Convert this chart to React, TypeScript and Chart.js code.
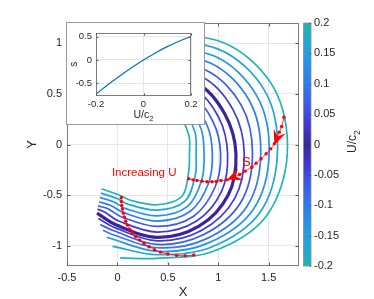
import React, { useEffect, useRef } from 'react';
import { Chart, registerables } from 'chart.js';

Chart.register(...registerables);

const FONT = '"Liberation Sans", Arial, Helvetica, sans-serif';
const TXT = '#262626';

// ---------- main plot data ----------
const uValues = [0.2, 0.1667, 0.1333, 0.1, 0.0667, 0.0333, 0, -0.0333, -0.0667, -0.1, -0.1333, -0.1667, -0.2];
// curves read in polar form around a reference point (data units), angle measured clockwise from +X
const curveCenter = [0.395, -0.092];
const readAngles = [-100, -60, -30, 0, 30, 60, 90, 120, 132];
const rAtM100 = [0.461, 0.520, 0.579, 0.638, 0.697, 0.757, 0.822, 0.882, 0.941, 1.003, 1.063, 1.125, 1.184];
const rAtM60 = [0.428, 0.490, 0.553, 0.612, 0.674, 0.737, 0.799, 0.878, 0.957, 1.039, 1.118, 1.197, 1.276];
const rAtM30 = [0.362, 0.431, 0.500, 0.569, 0.638, 0.707, 0.776, 0.868, 0.961, 1.053, 1.141, 1.234, 1.326];
const rAt0 = [0.319, 0.385, 0.464, 0.546, 0.628, 0.697, 0.780, 0.862, 0.944, 1.026, 1.109, 1.191, 1.289];
const rAt30 = [0.359, 0.434, 0.510, 0.586, 0.661, 0.737, 0.812, 0.885, 0.957, 1.030, 1.099, 1.171, 1.243];
const rAt60 = [0.487, 0.543, 0.599, 0.655, 0.714, 0.770, 0.826, 0.875, 0.921, 0.970, 1.016, 1.066, 1.112];
const rAt90 = [0.503, 0.556, 0.612, 0.664, 0.717, 0.773, 0.826, 0.859, 0.895, 0.928, 0.964, 0.997, 1.033];
const rAt120 = [0.530, 0.576, 0.625, 0.671, 0.717, 0.766, 0.812, 0.842, 0.875, 0.914, null, null, null];
const rAt132 = [0.553, 0.595, 0.641, 0.688, 0.730, 0.776, null, null, null, null, null, null, null];
const radiiByAngle = [rAtM100, rAtM60, rAtM30, rAt0, rAt30, rAt60, rAt90, rAt120, rAt132];
const endAngles = [148, 145.2, 142.9, 140.7, 138.8, 137.3, 135.6, 132.5, 129, 125.5, 121.3, 115.9, 109.7];
const endRadii = [0.651, 0.681, 0.714, 0.747, 0.780, 0.806, 0.836, 0.865, 0.898, 0.928, 0.964, 1.016, 1.092];

// red dotted "S" path (outer curve -> inner curve)
const sPathX = [1.651, 1.628, 1.605, 1.556, 1.520, 1.474, 1.424, 1.375, 1.332, 1.266, 1.211, 1.150, 1.086, 1.026, 0.980, 0.938, 0.888, 0.839, 0.789, 0.750, 0.707];
const sPathY = [0.270, 0.178, 0.122, 0.007, -0.043, -0.092, -0.141, -0.184, -0.224, -0.263, -0.296, -0.325, -0.349, -0.355, -0.365, -0.368, -0.368, -0.362, -0.355, -0.349, -0.339];
// red dotted path on the lower left
const lPathX = [0.039, 0.039, 0.043, 0.049, 0.059, 0.069, 0.082, 0.099, 0.122, 0.148, 0.181, 0.220, 0.263, 0.313, 0.368, 0.428, 0.500, 0.586, 0.671, 0.757];
const lPathY = [-0.523, -0.563, -0.602, -0.638, -0.678, -0.717, -0.757, -0.796, -0.836, -0.872, -0.908, -0.944, -0.977, -1.010, -1.039, -1.063, -1.082, -1.095, -1.099, -1.092];
// arrow heads: tip and a point behind it on the path
const arrowTips = [[1.556, -0.005], [1.086, -0.349]];
const arrowTails = [[1.605, 0.122], [1.211, -0.296]];
// annotations
const sLabel = { text: 'S', x: 1.277, y: -0.175 };
const incLabel = { text: 'Increasing U', x: 0.265, y: -0.284 };

const xTicks = [-0.5, 0, 0.5, 1, 1.5];
const yTicks = [-1, -0.5, 0, 0.5, 1];
const cbTicks = [-0.2, -0.15, -0.1, -0.05, 0, 0.05, 0.1, 0.15, 0.2];

// ---------- inset data ----------
const insetU = [-0.2, -0.15, -0.1, -0.05, 0, 0.05, 0.1, 0.15, 0.2];
const insetS = [-0.74, -0.535, -0.345, -0.168, 0, 0.152, 0.288, 0.405, 0.505];
const insetXTicks = [-0.2, 0, 0.2];
const insetYTicks = [-0.5, 0, 0.5];

// ---------- colour map (style) ----------
const cmapStops: [number, number[]][] = [
  [0.0, [58, 36, 155]],
  [0.18, [64, 60, 212]],
  [0.32, [62, 88, 232]],
  [0.5, [46, 124, 240]],
  [0.75, [34, 158, 226]],
  [1.0, [28, 182, 186]],
];
function colorFor(u: number): string {
  const t = Math.min(1, Math.abs(u) / 0.2);
  for (let k = 1; k < cmapStops.length; k++) {
    const [t1, c1] = cmapStops[k];
    const [t0, c0] = cmapStops[k - 1];
    if (t <= t1) {
      const f = (t - t0) / (t1 - t0);
      const c = c0.map((v, j) => Math.round(v + (c1[j] - v) * f));
      return `rgb(${c[0]},${c[1]},${c[2]})`;
    }
  }
  const c = cmapStops[cmapStops.length - 1][1];
  return `rgb(${c[0]},${c[1]},${c[2]})`;
}

function polar(angleDeg: number, r: number) {
  const a = (angleDeg * Math.PI) / 180;
  return { x: curveCenter[0] + r * Math.cos(a), y: curveCenter[1] - r * Math.sin(a) };
}

const fmt = (v: number) => String(Math.round(v * 100) / 100);

function drawSubLabel(ctx: CanvasRenderingContext2D, cx: number, cy: number, main: string, sub: string, size: number, angle: number) {
  ctx.save();
  ctx.translate(cx, cy);
  ctx.rotate(angle);
  ctx.fillStyle = TXT;
  ctx.textAlign = 'left';
  ctx.textBaseline = 'alphabetic';
  ctx.font = `${size}px ${FONT}`;
  const w1 = ctx.measureText(main).width;
  const subSize = size * 0.72;
  ctx.font = `${subSize}px ${FONT}`;
  const w2 = ctx.measureText(sub).width;
  const x0 = -(w1 + w2) / 2;
  const base = size * 0.35;
  ctx.font = `${size}px ${FONT}`;
  ctx.fillText(main, x0, base);
  ctx.font = `${subSize}px ${FONT}`;
  ctx.fillText(sub, x0 + w1, base + size * 0.3);
  ctx.restore();
}

function drawArrowHead(ctx: CanvasRenderingContext2D, tx: number, ty: number, fx: number, fy: number, L: number, W: number) {
  const dx = tx - fx, dy = ty - fy;
  const len = Math.hypot(dx, dy) || 1;
  const ux = dx / len, uy = dy / len;
  const px = -uy, py = ux;
  const bx = tx - ux * L, by = ty - uy * L;
  const nx = tx - ux * L * 0.6, ny = ty - uy * L * 0.6;
  ctx.beginPath();
  ctx.moveTo(tx, ty);
  ctx.lineTo(bx + (px * W) / 2, by + (py * W) / 2);
  ctx.lineTo(nx, ny);
  ctx.lineTo(bx - (px * W) / 2, by - (py * W) / 2);
  ctx.closePath();
  ctx.fill();
}

function drawBoxAndTicks(ctx: CanvasRenderingContext2D, ca: any, xs: any, ys: any, xt: number[], yt: number[], len: number) {
  ctx.save();
  ctx.strokeStyle = '#7d7d7d';
  ctx.lineWidth = 1;
  const l = Math.round(ca.left) + 0.5, r = Math.round(ca.right) - 0.5;
  const t = Math.round(ca.top) + 0.5, b = Math.round(ca.bottom) - 0.5;
  ctx.strokeRect(l, t, r - l, b - t);
  ctx.strokeStyle = '#555';
  ctx.beginPath();
  xt.forEach((v) => {
    const p = Math.round(xs.getPixelForValue(v)) + 0.5;
    ctx.moveTo(p, b); ctx.lineTo(p, b - len);
    ctx.moveTo(p, t); ctx.lineTo(p, t + len);
  });
  yt.forEach((v) => {
    const p = Math.round(ys.getPixelForValue(v)) + 0.5;
    ctx.moveTo(l, p); ctx.lineTo(l + len, p);
    ctx.moveTo(r, p); ctx.lineTo(r - len, p);
  });
  ctx.stroke();
  ctx.restore();
}

const mainDecor = {
  id: 'mainDecor',
  afterDatasetsDraw(chart: any) {
    const { ctx, scales } = chart;
    const xs = scales.x, ys = scales.y;
    ctx.save();
    ctx.fillStyle = '#ff0000';
    arrowTips.forEach((tip, k) => {
      const tail = arrowTails[k];
      drawArrowHead(ctx, xs.getPixelForValue(tip[0]), ys.getPixelForValue(tip[1]), xs.getPixelForValue(tail[0]), ys.getPixelForValue(tail[1]), 15, 13);
    });
    ctx.textAlign = 'center';
    ctx.textBaseline = 'middle';
    ctx.font = `13px ${FONT}`;
    ctx.fillText(sLabel.text, xs.getPixelForValue(sLabel.x), ys.getPixelForValue(sLabel.y));
    ctx.font = `11.5px ${FONT}`;
    ctx.fillText(incLabel.text, xs.getPixelForValue(incLabel.x), ys.getPixelForValue(incLabel.y));
    ctx.restore();
  },
  afterDraw(chart: any) {
    const { ctx, chartArea: ca, scales } = chart;
    const xs = scales.x, ys = scales.y, cb = scales.cb;
    drawBoxAndTicks(ctx, ca, xs, ys, xTicks, yTicks, 3);
    ctx.save();
    // colorbar
    const cbL = ca.right + 4.5, cbW = 7.5;
    const top = cb.getPixelForValue(0.2), bot = cb.getPixelForValue(-0.2);
    const g = ctx.createLinearGradient(0, top, 0, bot);
    for (let k = 0; k <= 40; k++) {
      const u = 0.2 - (0.4 * k) / 40;
      g.addColorStop(k / 40, colorFor(u));
    }
    ctx.fillStyle = g;
    ctx.fillRect(cbL, top, cbW, bot - top);
    ctx.strokeStyle = '#8c8c8c';
    ctx.lineWidth = 0.8;
    ctx.strokeRect(cbL, top, cbW, bot - top);
    ctx.strokeStyle = 'rgba(40,40,40,0.7)';
    ctx.beginPath();
    cbTicks.forEach((v) => {
      const p = Math.round(cb.getPixelForValue(v)) + 0.5;
      ctx.moveTo(cbL + cbW, p); ctx.lineTo(cbL + cbW - 1.5, p);
    });
    ctx.stroke();
    // axis titles
    ctx.fillStyle = TXT;
    ctx.font = `13px ${FONT}`;
    ctx.textAlign = 'center';
    ctx.textBaseline = 'middle';
    ctx.fillText('X', (ca.left + ca.right) / 2, 292);
    ctx.save();
    ctx.translate(32, (ca.top + ca.bottom) / 2);
    ctx.rotate(-Math.PI / 2);
    ctx.fillText('Y', 0, 0);
    ctx.restore();
    ctx.restore();
    drawSubLabel(ctx, 352, (ca.top + ca.bottom) / 2 - 3, 'U/c', '2', 12, -Math.PI / 2);
  },
};

const insetDecor = {
  id: 'insetDecor',
  afterDraw(chart: any) {
    const { ctx, chartArea: ca, scales } = chart;
    drawBoxAndTicks(ctx, ca, scales.x, scales.y, insetXTicks, insetYTicks, 2);
    drawSubLabel(ctx, (ca.left + ca.right) / 2, 91, 'U/c', '2', 10.5, 0);
    ctx.save();
    ctx.fillStyle = TXT;
    ctx.font = `10px ${FONT}`;
    ctx.textAlign = 'center';
    ctx.textBaseline = 'middle';
    ctx.translate(7, (ca.top + ca.bottom) / 2);
    ctx.rotate(-Math.PI / 2);
    ctx.fillText('s', 0, 0);
    ctx.restore();
  },
};

function buildCurves() {
  const sets: any[] = [];
  uValues.forEach((u, i) => {
    const pts: { x: number; y: number }[] = [];
    readAngles.forEach((a, k) => {
      const r = radiiByAngle[k][i];
      if (r !== null && r !== undefined) pts.push(polar(a, r));
    });
    pts.push(polar(endAngles[i], endRadii[i]));
    sets.push({
      data: pts,
      borderColor: colorFor(u),
      borderWidth: u === 0 ? 3.2 : 1.7,
      pointRadius: 0,
      pointHoverRadius: 0,
      tension: 0.34,
      fill: false,
      order: 5,
    });
  });
  return sets;
}

function redPath(xs: number[], ys: number[]) {
  return {
    data: xs.map((x, k) => ({ x, y: ys[k] })),
    borderColor: '#ff0000',
    borderWidth: 0.8,
    pointRadius: 1.7,
    pointBorderWidth: 0,
    pointBackgroundColor: '#ff0000',
    tension: 0.3,
    fill: false,
    order: 1,
  };
}

export default function App() {
  const mainRef = useRef<HTMLCanvasElement>(null);
  const insetRef = useRef<HTMLCanvasElement>(null);

  useEffect(() => {
    const tickFont = { family: FONT, size: 11 };
    const main = new Chart(mainRef.current as HTMLCanvasElement, {
      type: 'line',
      data: { datasets: [...buildCurves(), redPath(sPathX, sPathY), redPath(lPathX, lPathY)] as any },
      options: {
        animation: false,
        responsive: false,
        maintainAspectRatio: false,
        elements: { line: { capBezierPoints: false } },
        layout: { padding: { left: 0, right: 0, top: 23, bottom: 0 } },
        plugins: { legend: { display: false }, tooltip: { enabled: false } },
        scales: {
          x: {
            type: 'linear', position: 'bottom', min: -0.5, max: 1.8,
            afterFit: (s: any) => { s.height = 33; },
            afterBuildTicks: (s: any) => { s.ticks = xTicks.map((v) => ({ value: v })); },
            grid: { color: '#e6e6e6', drawTicks: false },
            border: { display: false },
            ticks: { padding: 5, font: tickFont, color: TXT, maxRotation: 0, autoSkip: false, callback: (v: any) => fmt(Number(v)) },
          },
          y: {
            type: 'linear', position: 'left', min: -1.2, max: 1.2,
            afterFit: (s: any) => { s.width = 67; },
            afterBuildTicks: (s: any) => { s.ticks = yTicks.map((v) => ({ value: v })); },
            grid: { color: '#e6e6e6', drawTicks: false },
            border: { display: false },
            ticks: { padding: 5, font: tickFont, color: TXT, autoSkip: false, callback: (v: any) => fmt(Number(v)) },
          },
          cb: {
            type: 'linear', position: 'right', min: -0.2, max: 0.2,
            afterFit: (s: any) => { s.width = 75; },
            afterBuildTicks: (s: any) => { s.ticks = cbTicks.map((v) => ({ value: v })); },
            grid: { display: false, drawTicks: false },
            border: { display: false },
            ticks: { padding: 15, font: tickFont, color: TXT, autoSkip: false, callback: (v: any) => fmt(Number(v)) },
          },
        },
      } as any,
      plugins: [mainDecor],
    });

    const inset = new Chart(insetRef.current as HTMLCanvasElement, {
      type: 'line',
      data: {
        datasets: [
          {
            data: insetU.map((u, k) => ({ x: u, y: insetS[k] })),
            borderColor: '#0072BD',
            borderWidth: 1.2,
            pointRadius: 0,
            tension: 0.4,
            fill: false,
          } as any,
        ],
      },
      options: {
        animation: false,
        responsive: false,
        maintainAspectRatio: false,
        layout: { padding: { left: 0, right: 13, top: 8, bottom: 0 } },
        plugins: { legend: { display: false }, tooltip: { enabled: false } },
        scales: {
          x: {
            type: 'linear', min: -0.2, max: 0.2,
            afterFit: (s: any) => { s.height = 28; },
            afterBuildTicks: (s: any) => { s.ticks = insetXTicks.map((v) => ({ value: v })); },
            grid: { color: '#e6e6e6', drawTicks: false },
            border: { display: false },
            ticks: { padding: 3, font: { family: FONT, size: 9.5 }, color: TXT, maxRotation: 0, callback: (v: any) => fmt(Number(v)) },
          },
          y: {
            type: 'linear', min: -0.78, max: 0.59,
            afterFit: (s: any) => { s.width = 29; },
            afterBuildTicks: (s: any) => { s.ticks = insetYTicks.map((v) => ({ value: v })); },
            grid: { color: '#e6e6e6', drawTicks: false },
            border: { display: false },
            ticks: { padding: 4, font: { family: FONT, size: 9.5 }, color: TXT, callback: (v: any) => fmt(Number(v)) },
          },
        },
      } as any,
      plugins: [insetDecor],
    });

    return () => {
      main.destroy();
      inset.destroy();
    };
  }, []);

  return (
    <div style={{ position: 'absolute', left: 0, top: 0, width: 374, height: 299, background: '#fff' }}>
      <canvas ref={mainRef} width={374} height={299} style={{ position: 'absolute', left: 0, top: 0, width: 374, height: 299 }} />
      <div
        style={{
          position: 'absolute', left: 66, top: 22, width: 139, height: 103,
          border: '1px solid #9a9a9a', boxSizing: 'border-box', background: '#fff',
        }}
      >
        <canvas ref={insetRef} width={137} height={101} style={{ display: 'block', width: 137, height: 101 }} />
      </div>
    </div>
  );
}
